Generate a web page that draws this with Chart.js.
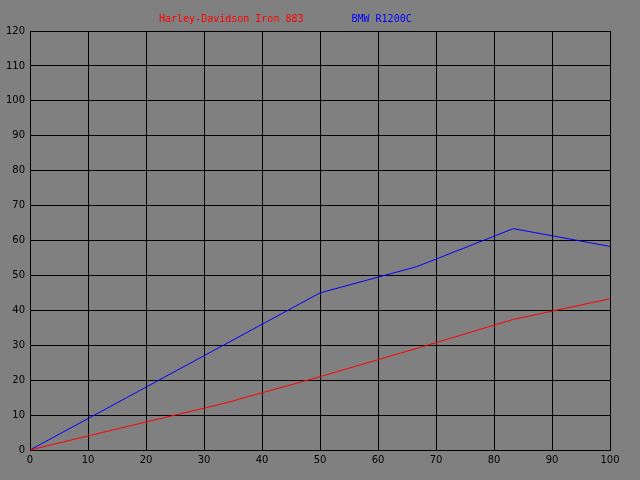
<!DOCTYPE html>
<html>
<head>
<meta charset="utf-8">
<script src="https://cdn.jsdelivr.net/npm/chart.js@4/dist/chart.umd.min.js"></script>
<style>
  html, body { margin: 0; padding: 0; background: #808080; }
  #wrap { width: 640px; height: 480px; }
</style>
</head>
<body>
<div id="wrap"><canvas id="chart" width="640" height="480"></canvas></div>
<script>
// Data
const xValues = [0, 16.67, 33.33, 50, 66.67, 83.33, 100];
const harleyValues = [0, 6.7, 13.3, 21, 29.1, 37.4, 43.3];
const bmwValues = [0, 15, 30, 45, 52.5, 63.4, 58.3];
const seriesNames = ['Harley-Davidson Iron 883', 'BMW R1200C'];
const seriesColors = ['#ff0000', '#0000ff'];

function toPoints(ys) {
    return ys.map((y, i) => ({ x: xValues[i], y: y }));
}

// Simple text legend above the plot, no colour boxes
const textLegend = {
    id: 'textLegend',
    afterDraw(chart) {
        const ctx = chart.ctx;
        ctx.save();
        ctx.font = '10px "DejaVu Sans Mono", monospace';
        ctx.textBaseline = 'middle';
        ctx.textAlign = 'left';
        let x = 159;
        seriesNames.forEach((name, i) => {
            ctx.fillStyle = seriesColors[i];
            ctx.fillText(name, x, 19);
            x += ctx.measureText(name).width + 48;
        });
        ctx.restore();
    }
};

const ctx = document.getElementById('chart').getContext('2d');
new Chart(ctx, {
    type: 'line',
    data: {
        datasets: [{
            label: seriesNames[0],
            data: toPoints(harleyValues),
            borderColor: seriesColors[0],
            borderWidth: 1,
            pointRadius: 0,
            tension: 0
        }, {
            label: seriesNames[1],
            data: toPoints(bmwValues),
            borderColor: seriesColors[1],
            borderWidth: 1,
            pointRadius: 0,
            tension: 0
        }]
    },
    options: {
        responsive: false,
        animation: false,
        layout: { padding: { top: 31, right: 30, left: 0, bottom: 0 } },
        plugins: {
            legend: { display: false },
            tooltip: { enabled: false }
        },
        scales: {
            x: {
                type: 'linear',
                min: 0,
                max: 100,
                ticks: {
                    stepSize: 10,
                    color: '#000',
                    padding: 4,
                    maxRotation: 0,
                    font: { family: '"DejaVu Sans"', size: 10 }
                },
                grid: { color: '#000', lineWidth: 1, drawTicks: false },
                border: { color: '#000', width: 1 },
                afterFit: (axis) => { axis.height = 30; }
            },
            y: {
                min: 0,
                max: 120,
                ticks: {
                    stepSize: 10,
                    color: '#000',
                    padding: 5,
                    font: { family: '"DejaVu Sans"', size: 10 }
                },
                grid: { color: '#000', lineWidth: 1, drawTicks: false },
                border: { color: '#000', width: 1 },
                afterFit: (axis) => { axis.width = 30; }
            }
        }
    },
    plugins: [textLegend]
});
</script>
</body>
</html>
